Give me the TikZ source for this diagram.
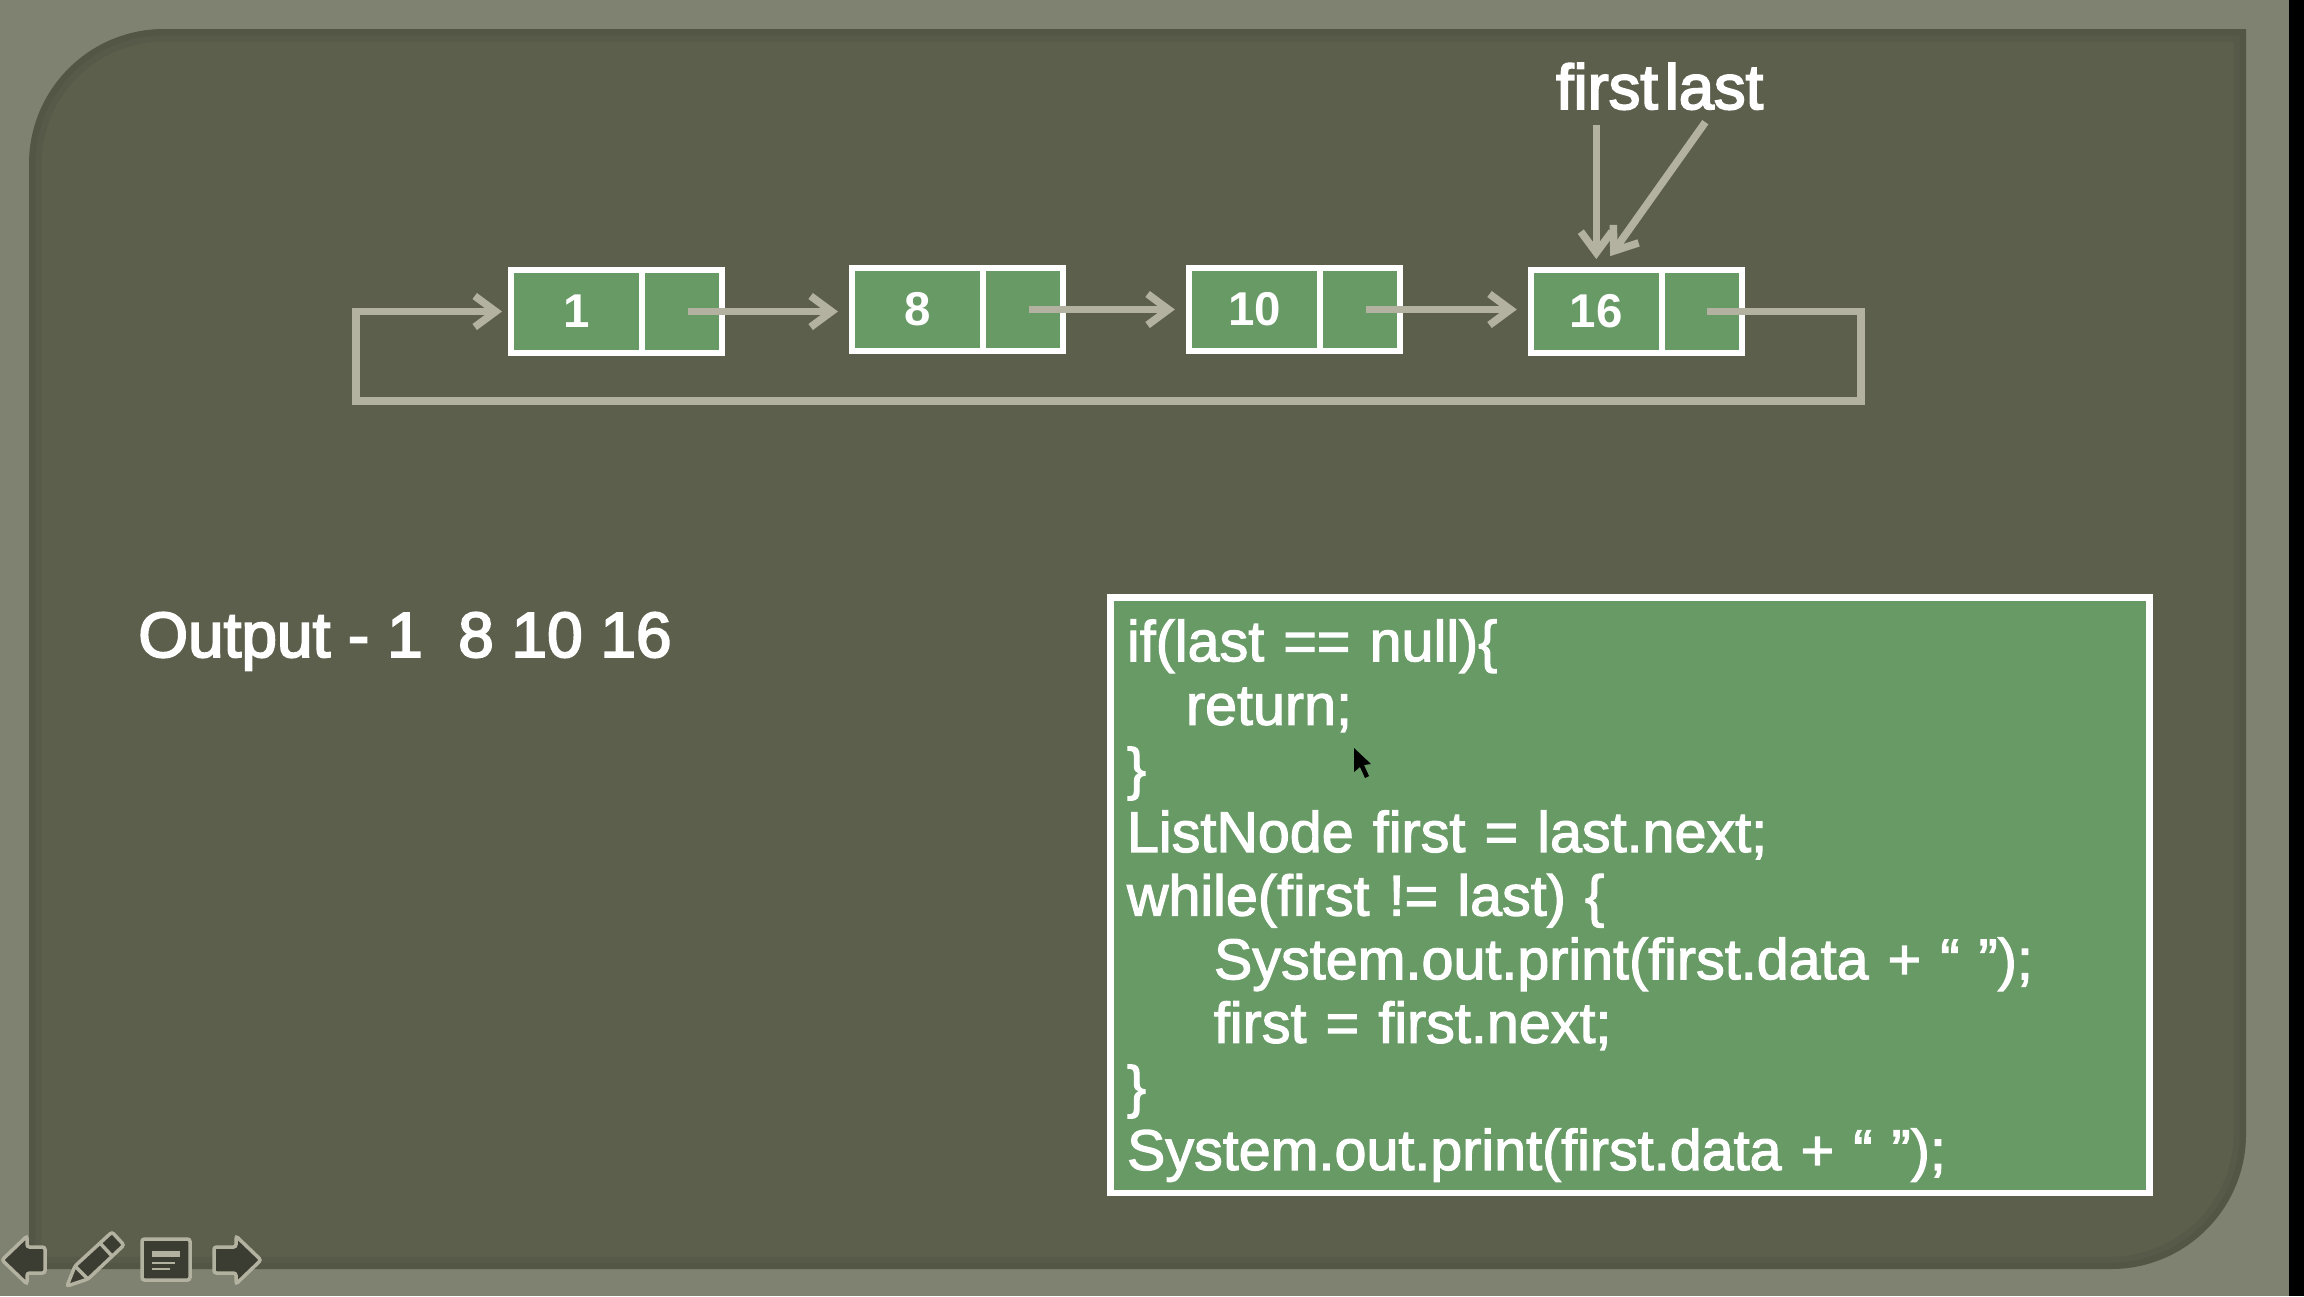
\documentclass[tikz,border=0pt]{standalone}
\usepackage{fontspec}
\setmainfont{Liberation Sans}
\newfontfamily\heavyfont[FakeBold=3]{Liberation Sans}
\newfontfamily\codefont[FakeBold=2]{Liberation Sans}
\usetikzlibrary{arrows.meta, positioning}
\definecolor{framegray}{HTML}{7F8270}
\definecolor{slidegray}{HTML}{5D5F4D}
\definecolor{cellgreen}{HTML}{689A66}
\definecolor{linkgray}{HTML}{B3B2A0}
\definecolor{icongray}{HTML}{3C3D32}
\newcommand{\slideshape}{(29,1269) [rounded corners=2.7cm] -- (29,29) [sharp corners] -- (2246,29)
        [rounded corners=2.7cm] -- (2246,1269) [sharp corners] -- cycle}
\begin{document}
\begin{tikzpicture}[x=0.02cm, y=-0.02cm,
        value_cell/.style = {
            rectangle,
            draw=white,
            fill=cellgreen,
            line width=0.13cm,
            outer sep=0pt,
            inner sep=0pt,
            text=white,
            font = \fontsize{27}{30}\selectfont\bfseries,
            minimum width=2.62cm,
            minimum height=1.66cm
        },
        ptr_cell/.style = {
            value_cell,
            minimum width=1.6cm
        },
        link/.style = {
            draw=linkgray,
            line width=0.15cm,
            -{Straight Barb[length=0.42cm, width=0.62cm]}
        },
        pointer_label/.style = {
            text=white,
            inner sep=0pt,
            anchor=base,
            font = \fontsize{36}{40}\selectfont\heavyfont
        },
        icon/.style = {
            draw=linkgray,
            fill=icongray,
            line width=0.07cm,
            rounded corners=0.05cm
        },
        code_box/.style = {
            rectangle,
            draw=white,
            fill=cellgreen,
            line width=0.13cm,
            outer sep=0pt,
            text=white,
            anchor=north west,
            align=left,
            text width=20.12cm,
            inner xsep=0.33cm,
            inner ysep=0pt,
            minimum height=11.91cm,
            font = \fontsize{32.7}{36.2}\selectfont\codefont
        }
    ]
    \useasboundingbox (0,0) rectangle (2304,1296);
    \fill[framegray] (0,0) rectangle (2304,1296);
    \fill[black] (2289,0) rectangle (2304,1296);
    \fill[slidegray] \slideshape;
    \begin{scope}
        \clip \slideshape;
        \draw[black, opacity=0.05, line width=0.5cm] \slideshape;
        \draw[black, opacity=0.05, line width=0.25cm] \slideshape;
    \end{scope}

    % list cells
    \node (val_one) [value_cell] at (576.5,311.5) {1};
    \node (ptr_one) [ptr_cell, right=0pt of val_one] {};
    \node (val_eight) [value_cell, right=2.6cm of ptr_one, yshift=0.04cm] {8};
    \node (ptr_eight) [ptr_cell, right=0pt of val_eight] {};
    \node (val_ten) [value_cell, right=2.52cm of ptr_eight] {10};
    \node (ptr_ten) [ptr_cell, right=0pt of val_ten] {};
    \node (val_sixteen) [value_cell, right=2.62cm of ptr_ten, yshift=-0.04cm] {16};
    \node (ptr_sixteen) [ptr_cell, right=0pt of val_sixteen] {};

    \node (first) [pointer_label] at (1607,109) {first};
    \node (last) [pointer_label] at (1714,109) {last};

    \coordinate (loop_right) at (1861,401);
    \coordinate (loop_left) at (356,401);

    \draw[link, shorten <=0.12cm, shorten >=0.28cm] (ptr_one.center) -- (ptr_one.center -| val_eight.west);
    \draw[link, shorten <=0.12cm, shorten >=0.28cm] (ptr_eight.center) -- (ptr_eight.center -| val_ten.west);
    \draw[link, shorten <=0.12cm, shorten >=0.28cm] (ptr_ten.center) -- (ptr_ten.center -| val_sixteen.west);
    \draw[link, shorten <=0.1cm, shorten >=0.18cm] (ptr_sixteen.center) -| (loop_right) -- (loop_left) |- (val_one.west);
    \draw[link, shorten <=0.3cm, shorten >=0.22cm] (first.south -| val_sixteen.north) -- (val_sixteen.north);
    \draw[link, shorten <=0.3cm, shorten >=0.34cm] (last.south) -- ([xshift=0.08cm]val_sixteen.north);

    \node (output) [text=white, inner sep=0pt, anchor=base west, font=\fontsize{36.4}{40}\selectfont\heavyfont]
        at (138,657) {Output - 1\ \ 8 10 16};

    \node (code) [code_box] at (1110.5,597.5) {%
        \rule{0pt}{36.2pt}if(last == null)\{\\
        \hspace*{1.18cm}return;\\
        \}\\
        ListNode first = last.next;\\
        while(first != last) \{\\
        \hspace*{1.74cm}System.out.print(first.data + “ ”);\\
        \hspace*{1.74cm}first = first.next;\\
        \}\\
        \rule[-13pt]{0pt}{1pt}System.out.print(first.data + “ ”);};

    % mouse pointer
    \fill[black] (1354,748) -- (1354,772) -- (1360,767) -- (1365,778) -- (1369,776) -- (1364,765) -- (1371,764) -- cycle;

    % slide controls
    \draw[icon] (2,1260) -- (27,1236) -- (27,1247) -- (45,1247) -- (45,1273) -- (27,1273) -- (27,1284) -- cycle;
    \draw[icon] (67,1286) -- (88,1279) -- (124,1245) -- (112,1232) -- (75,1266) -- cycle;
    \draw[draw=linkgray, line width=0.07cm] (75,1266) -- (88,1279);
    \draw[draw=linkgray, line width=0.07cm] (100,1243) -- (112,1256);
    \draw[icon] (142,1239) rectangle (190,1280);
    \fill[linkgray] (152,1251) rectangle (180,1257);
    \fill[linkgray] (152,1262) rectangle (175,1264);
    \fill[linkgray] (152,1268) rectangle (170,1270);
    \draw[icon] (261,1260) -- (236,1236) -- (236,1247) -- (214,1247) -- (214,1273) -- (236,1273) -- (236,1284) -- cycle;
\end{tikzpicture}
\end{document}
